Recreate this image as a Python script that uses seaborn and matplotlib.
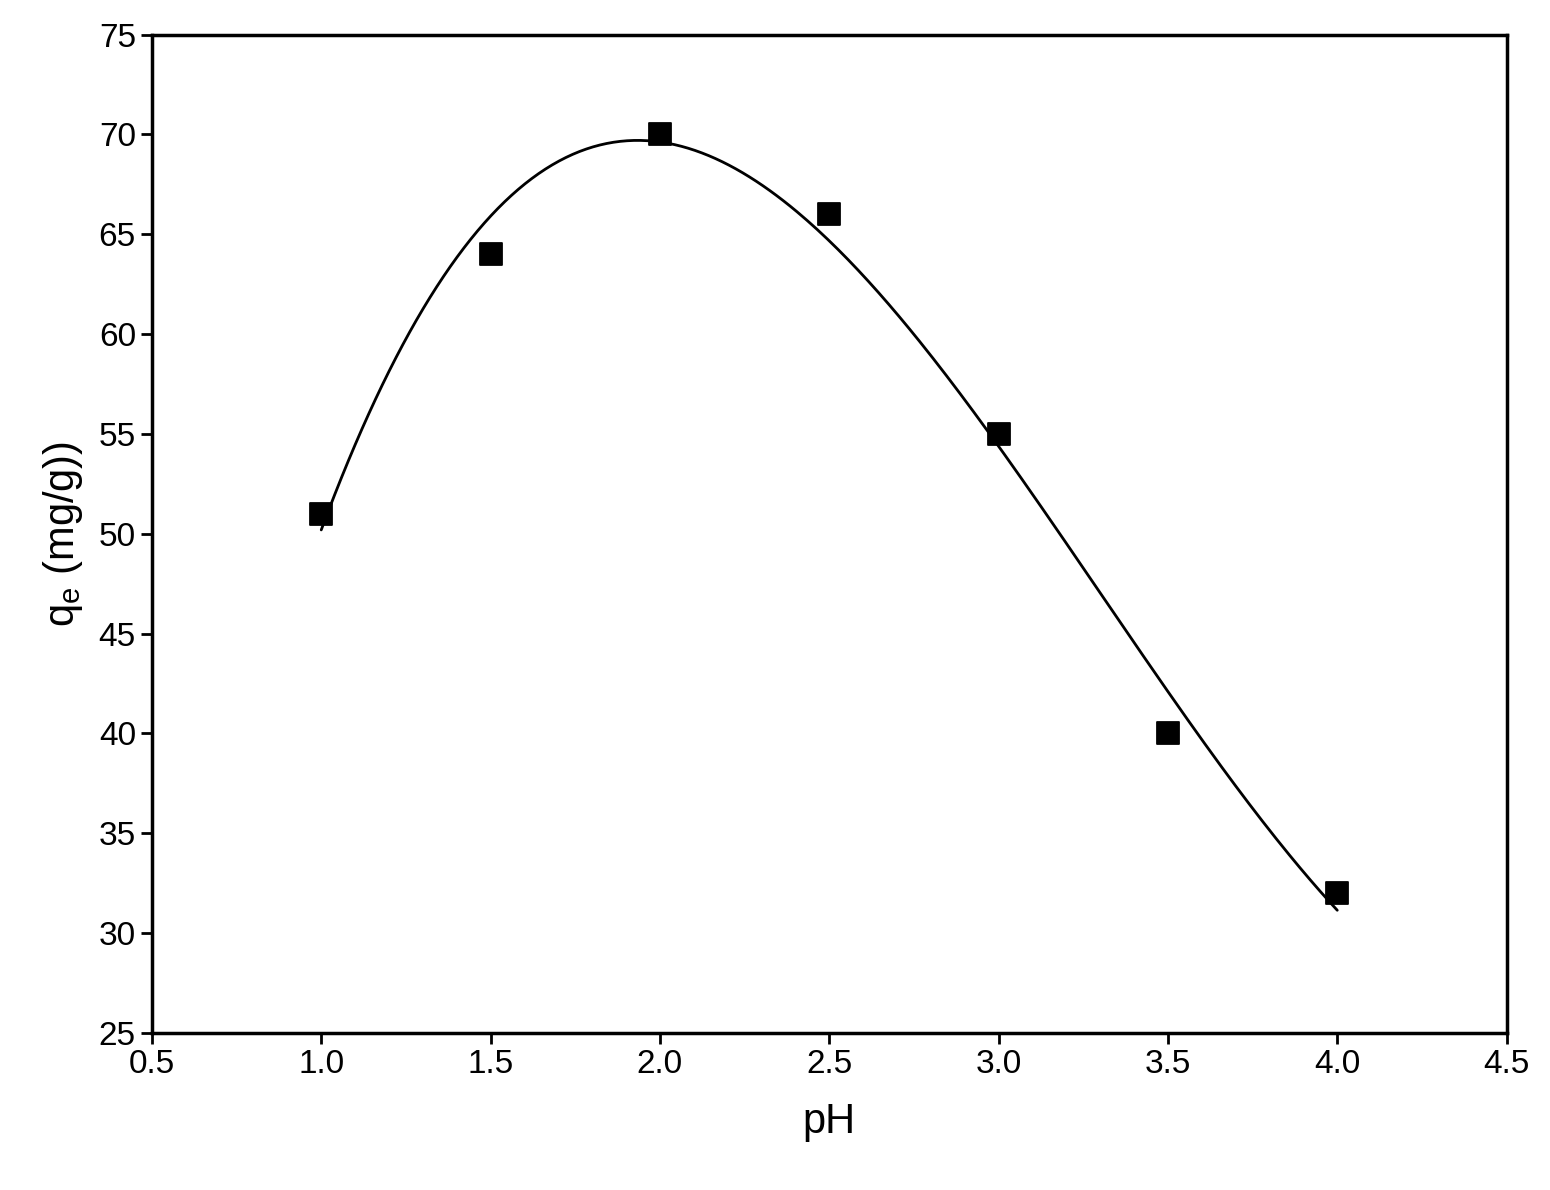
import numpy as np
import pandas as pd
import matplotlib
matplotlib.use("Agg")
import matplotlib.pyplot as plt
import seaborn as sns

ph = [1.0, 1.5, 2.0, 2.5, 3.0, 3.5, 4.0]
qe = [51, 64, 70, 66, 55, 40, 32]

sns.set_theme(style="ticks")
plt.rcParams['font.family'] = ['Liberation Sans', 'DejaVu Sans']

df = pd.DataFrame({"pH": ph, "qe": qe})

# smooth fit curve computed from the points
coef = np.polyfit(ph, qe, 3)
xs = np.linspace(1.0, 4.0, 300)
fit = pd.DataFrame({"pH": xs, "qe": np.polyval(coef, xs)})

fig = plt.figure(figsize=(15.5, 11.9), dpi=100)
ax = fig.add_axes([0.098, 0.132, 0.874, 0.839])

sns.lineplot(data=fit, x="pH", y="qe", color="black", linewidth=2, ax=ax)
sns.scatterplot(data=df, x="pH", y="qe", marker="s", s=260, color="black",
                edgecolor="black", ax=ax, zorder=3)

ax.set_xlim(0.5, 4.5)
ax.set_ylim(25, 75)
ax.set_xticks(np.arange(0.5, 4.51, 0.5))
ax.set_yticks(np.arange(25, 76, 5))
ax.xaxis.set_major_formatter(matplotlib.ticker.FormatStrFormatter('%.1f'))
ax.tick_params(direction='out', length=8, width=2, labelsize=24, colors='black')
for sp in ax.spines.values():
    sp.set_linewidth(2.5)
    sp.set_color('black')
    sp.set_visible(True)

ax.set_xlabel("pH", fontsize=30, labelpad=16, color='black')
ax.set_ylabel(r"q$_\mathregular{e}$ (mg/g))", fontsize=30, labelpad=10, color='black')

fig.savefig("out.png", dpi=100)
